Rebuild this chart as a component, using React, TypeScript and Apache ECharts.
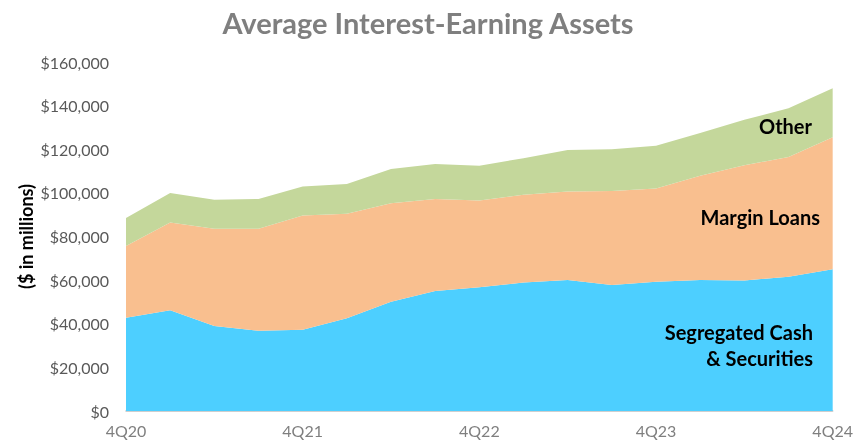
import React, { useEffect, useRef } from "react";
import * as echarts from "echarts";

const quarters = [
  "4Q20", "1Q21", "2Q21", "3Q21", "4Q21", "1Q22", "2Q22", "3Q22", "4Q22",
  "1Q23", "2Q23", "3Q23", "4Q23", "1Q24", "2Q24", "3Q24", "4Q24",
];
const shownLabels = ["4Q20", "4Q21", "4Q22", "4Q23", "4Q24"];

const segregatedCash = [42800, 46200, 39000, 36800, 37200, 42500, 50100, 55000, 56700, 58900, 60100, 57800, 59300, 60100, 59800, 61600, 65000];
const marginLoans = [32900, 40200, 44500, 46800, 52400, 47900, 45200, 42200, 39800, 40200, 40500, 43100, 42700, 47700, 52900, 54800, 60500];
const other = [12800, 13600, 13300, 13600, 13300, 13700, 15600, 16000, 15900, 16800, 19000, 19100, 19600, 19600, 20800, 22400, 22500];

const FONT = "Lato";

export default function App() {
  const ref = useRef<HTMLDivElement>(null);
  useEffect(() => {
    if (!ref.current) return;
    const chart = echarts.init(ref.current, null, { renderer: "svg" });
    const area = (name: string, data: number[], color: string) => ({
      name,
      type: "line",
      stack: "total",
      data,
      symbol: "none",
      lineStyle: { width: 0 },
      areaStyle: { color, opacity: 1 },
      itemStyle: { color },
    });
    const labelStyle = (text: string) => ({
      text,
      fontFamily: FONT,
      fontSize: 20,
      fontWeight: "bold",
      fill: "#000",
    });
    chart.setOption({
      animation: false,
      textStyle: { fontFamily: FONT },
      title: {
        text: "Average Interest-Earning Assets",
        left: "center",
        top: 3,
        itemGap: 0,
        textStyle: { fontFamily: FONT, fontSize: 29, fontWeight: "bold", color: "#7f7f7f" },
      },
      grid: { left: 126, right: 22, top: 62, bottom: 32, containLabel: false },
      xAxis: {
        type: "category",
        data: quarters,
        boundaryGap: false,
        axisLine: { show: true, lineStyle: { color: "#bfbfbf", width: 1.5 } },
        axisTick: { show: false },
        axisLabel: {
          interval: 0,
          color: "#7f7f7f",
          fontSize: 16,
          fontFamily: FONT,
          margin: 11,
          formatter: (v: string) => (shownLabels.includes(v) ? v : ""),
        },
        splitLine: { show: false },
      },
      yAxis: {
        type: "value",
        min: 0,
        max: 160000,
        interval: 20000,
        name: "($ in millions)",
        nameLocation: "middle",
        nameGap: 91,
        nameMoveOverlap: false,
        nameRotate: 90,
        nameTextStyle: { fontFamily: FONT, fontSize: 18, fontWeight: "bold", color: "#000" },
        axisLine: { show: false },
        axisTick: { show: false },
        splitLine: { show: false },
        axisLabel: {
          color: "#595959",
          fontSize: 16,
          fontFamily: FONT,
          margin: 17,
          formatter: (v: number) => "$" + v.toLocaleString("en-US"),
        },
      },
      series: [
        area("Segregated Cash & Securities", segregatedCash, "#4dcfff"),
        area("Margin Loans", marginLoans, "#f9bf8f"),
        area("Other", other, "#c4d79b"),
      ],
      graphic: [
        { type: "text", z: 100, right: 44, top: 116, style: labelStyle("Other") },
        { type: "text", z: 100, right: 36, top: 207, style: labelStyle("Margin Loans") },
        { type: "text", z: 100, right: 43, top: 322, style: labelStyle("Segregated Cash") },
        { type: "text", z: 100, right: 43, top: 348, style: labelStyle("& Securities") },
      ],
    });
    return () => chart.dispose();
  }, []);
  return (
    <div
      ref={ref}
      style={{ position: "fixed", left: 0, top: 0, width: 856, height: 443 }}
    />
  );
}
